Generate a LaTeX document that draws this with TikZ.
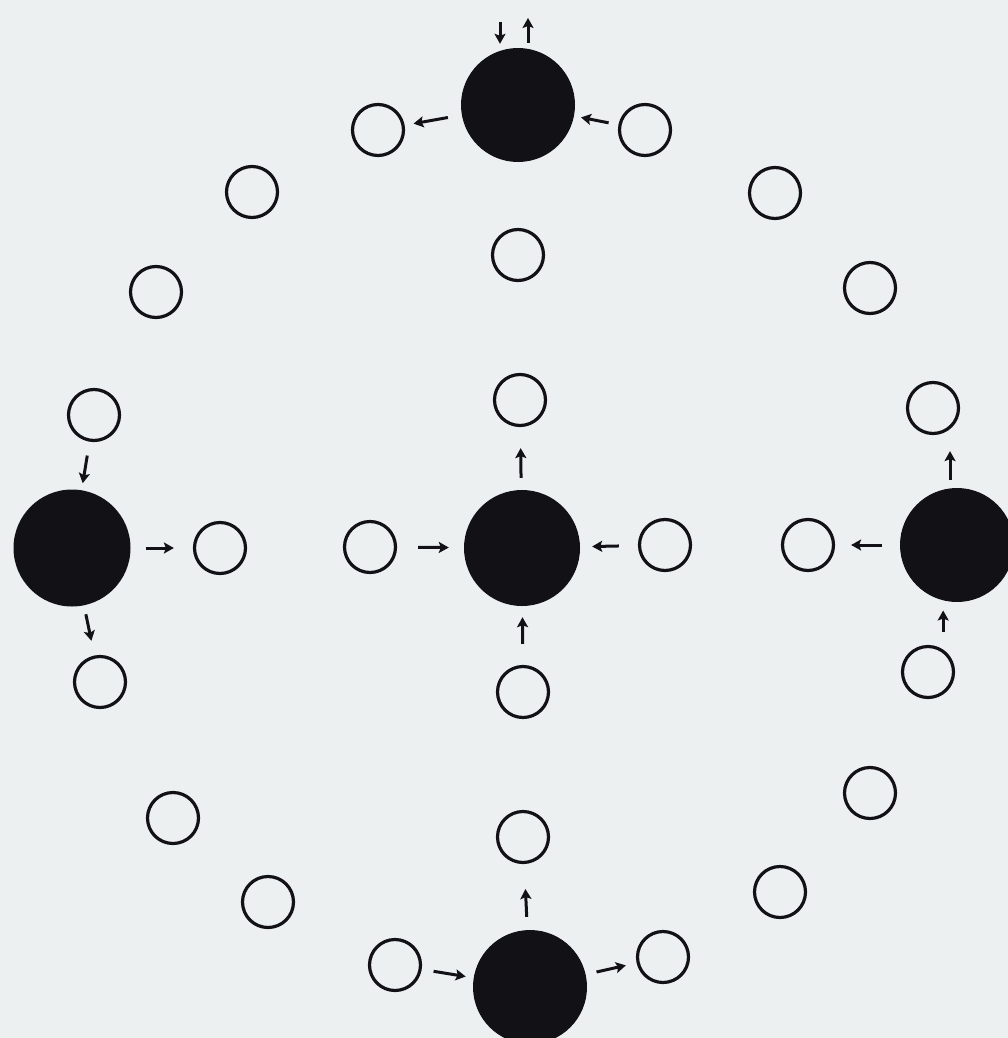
\documentclass[tikz,border=0pt]{standalone}
\usetikzlibrary{arrows.meta}
\definecolor{paper}{RGB}{237,240,240}
\definecolor{ink}{RGB}{18,18,22}
\begin{document}
\begin{tikzpicture}[x=1pt,y=-1pt,
  blk/.style={circle,fill=ink,draw=none,minimum size=114pt,inner sep=0pt},
  wht/.style={circle,draw=ink,line width=3.2pt,minimum size=51pt,inner sep=0pt},
  arr/.style 2 args={draw=ink,line width=3pt,
    -{Stealth[length=10pt,width=11pt,inset=2pt]},
    shorten <=#1pt,shorten >=#2pt}]
\path[use as bounding box,fill=paper] (0,0) rectangle (1008,1038);

% black circles
\node[blk] (bT) at (518,105) {};
\node[blk,minimum size=117pt] (bL) at (72,548) {};
\node[blk,minimum size=116pt] (bC) at (522,548) {};
\node[blk] (bR) at (957,545) {};
\node[blk] (bB) at (530,987) {};

% white circles
\node[wht] (w1) at (378,130) {};
\node[wht] (w2) at (645,130) {};
\node[wht] (w3) at (252,192) {};
\node[wht] (w4) at (775,193) {};
\node[wht] (w5) at (518,255) {};
\node[wht] (w6) at (156,292) {};
\node[wht] (w7) at (870,288) {};
\node[wht] (w8) at (520,400) {};
\node[wht] (w9) at (94,415) {};
\node[wht] (w10) at (933,408) {};
\node[wht] (w11) at (220,548) {};
\node[wht] (w12) at (370,547) {};
\node[wht] (w13) at (665,545) {};
\node[wht] (w14) at (808,545) {};
\node[wht] (w15) at (100,682) {};
\node[wht] (w16) at (523,692) {};
\node[wht] (w17) at (928,672) {};
\node[wht] (w18) at (870,793) {};
\node[wht] (w19) at (173,818) {};
\node[wht] (w20) at (523,837) {};
\node[wht] (w21) at (268,902) {};
\node[wht] (w22) at (780,892) {};
\node[wht] (w23) at (395,965) {};
\node[wht] (w24) at (663,957) {};

% free ends above the top black circle
\coordinate (tIn) at (500,22);
\coordinate (tOut) at (528,18);

% arrows
\draw[arr={0}{4}] (tIn) -- (tIn |- bT.north);
\draw[arr={5}{0}] (tOut |- bT.north) -- (tOut);
\draw[arr={14}{9}] (bT) -- (w1);
\draw[arr={10}{7}] (w2) -- (bT);

\draw[arr={14}{7}] (w9) -- (bL);
\draw[arr={15}{19}] (bL) -- (w11);
\draw[arr={9}{15}] (bL) -- (w15);

\draw[arr={21}{15}] (w12) -- (bC);
\draw[arr={19}{12}] (w13) -- (bC);
\draw[arr={12}{21}] (bC) -- (w8);
\draw[arr={21}{11}] (w16) -- (bC);

\draw[arr={8}{16}] (bR.97) -- (bR.97 |- w10.south);
\draw[arr={18}{16}] (bR) -- (w14);
\draw[arr={13}{10}] (bR.256 |- w17.north) -- (bR.256);

\draw[arr={13}{25}] (bB) -- (w20);
\draw[arr={12}{8}] (w23) -- (bB);
\draw[arr={11}{11}] (bB) -- (w24);
\end{tikzpicture}
\end{document}
